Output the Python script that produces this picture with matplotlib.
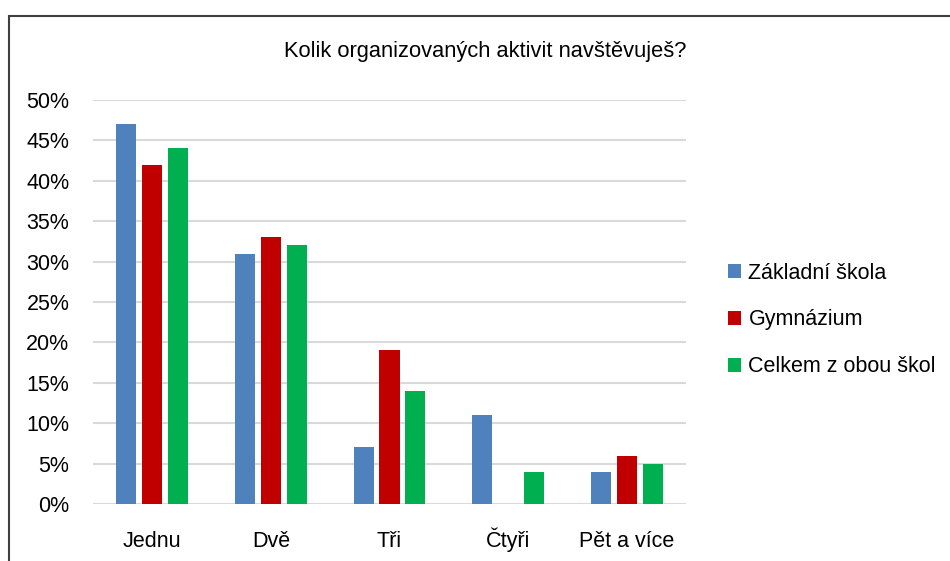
import numpy as np
import matplotlib
matplotlib.use("Agg")
import matplotlib.pyplot as plt
from matplotlib.patches import Rectangle

plt.rcParams['font.family'] = ['Liberation Sans', 'DejaVu Sans']

categories = ['Jednu', 'Dvě', 'Tři', 'Čtyři', 'Pět a více']
zakladni = [47, 31, 7, 11, 4]
gymnazium = [42, 33, 19, 0, 6]
celkem = [44, 32, 14, 4, 5]
series_names = ['Základní škola', 'Gymnázium', 'Celkem z obou škol']
colors = ['#4F81BD', '#C00000', '#00B050']

fig = plt.figure(figsize=(9.5, 5.61), dpi=100)
ax = fig.add_axes([93/950, 1-504/561, (686-93)/950, (504-100)/561])

x = np.arange(len(categories))
w = 0.169
step = 0.219
for i, (vals, name, c) in enumerate(zip([zakladni, gymnazium, celkem], series_names, colors)):
    ax.bar(x + (i-1)*step, vals, width=w, color=c, label=name, zorder=3)

ax.set_xlim(-0.5, len(categories)-0.5)
ax.set_ylim(0, 50)
ax.set_yticks(np.arange(0, 51, 5))
ax.set_yticklabels([f'{v}%' for v in range(0, 51, 5)], fontsize=15.5)
ax.set_xticks(x)
ax.set_xticklabels(categories, fontsize=15.5, va='baseline')
ax.tick_params(axis='y', length=0, pad=17)
ax.tick_params(axis='x', length=0, pad=31)
ax.grid(axis='y', color='#d9d9d9', linewidth=1.5, zorder=0)
for s in ax.spines.values():
    s.set_visible(False)

fig.text(485/950, 1-52/561, 'Kolik organizovaných aktivit navštěvuješ?',
         ha='center', va='center', fontsize=15.75)

fig.legend(loc='center left', bbox_to_anchor=(709/950, 1-320/561), frameon=False,
           fontsize=15.5, handlelength=0.6, handleheight=0.6, handletextpad=0.33,
           labelspacing=1.2)

fig.patches.append(Rectangle((8.5/950, -0.1), 1.2, 1.1 - 16.5/561,
                             transform=fig.transFigure, fill=False,
                             edgecolor='#404040', linewidth=1.5))

fig.savefig('out.png', dpi=100)
